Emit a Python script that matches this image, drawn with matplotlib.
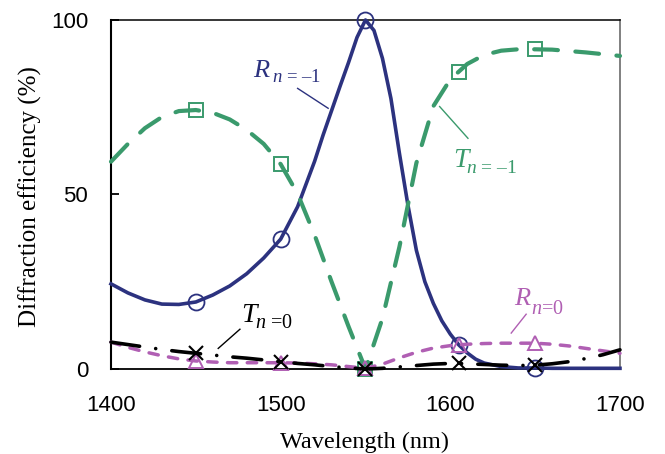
import numpy as np
import matplotlib.pyplot as plt

# wavelength grid (nm) shared by T(-1), T(0), R(0)
wl = [1400, 1410, 1420, 1430, 1440, 1450, 1460, 1470, 1480, 1490, 1500,
      1510, 1520, 1530, 1540, 1550, 1560, 1570, 1580, 1590, 1600, 1605,
      1610, 1620, 1630, 1640, 1650, 1660, 1670, 1680, 1690, 1700]
t_m1 = [59.4, 64.5, 69.0, 72.2, 73.9, 74.2, 73.4, 71.5, 68.5, 64.5, 58.7,
        50.2, 38.4, 25.0, 12.2, 0.0, 14.5, 35.0, 59.0, 75.3, 83.0, 85.2,
        87.4, 90.0, 91.2, 91.6, 91.6, 91.5, 91.1, 90.7, 90.2, 89.7]
t_0 = [7.7, 7.0, 6.3, 5.6, 5.0, 4.5, 4.0, 3.5, 3.1, 2.6, 2.1,
       1.6, 1.2, 0.7, 0.3, 0.0, 0.2, 0.6, 1.0, 1.4, 1.6, 1.6,
       1.5, 1.3, 1.1, 1.0, 1.1, 1.5, 2.1, 3.0, 4.1, 5.5]
r_0 = [7.7, 6.2, 4.9, 3.8, 2.9, 2.3, 2.0, 1.8, 1.8, 1.8, 1.8,
       1.7, 1.5, 1.2, 0.7, 0.2, 1.4, 3.2, 4.8, 6.0, 6.7, 6.9,
       7.1, 7.3, 7.4, 7.4, 7.4, 7.1, 6.6, 5.9, 5.2, 4.5]

# R(-1) needs a finer grid around the resonance
wl_r1 = [1400, 1410, 1420, 1430, 1440, 1450, 1460, 1470, 1480, 1490, 1500,
         1510, 1520, 1525, 1530, 1535, 1540, 1545, 1550, 1555, 1560, 1565,
         1570, 1575, 1580, 1585, 1590, 1595, 1600, 1605, 1610, 1615, 1620,
         1630, 1640, 1650, 1660, 1670, 1680, 1690, 1700]
r_m1 = [24.4, 21.8, 19.8, 18.6, 18.5, 19.2, 21.2, 23.8, 27.3, 31.8, 37.2,
        46.5, 59.5, 67.0, 74.0, 81.0, 87.8, 95.0, 100.0, 97.0, 89.0, 77.5,
        61.8, 47.0, 34.0, 25.0, 18.8, 13.8, 10.0, 6.9, 4.6, 2.8, 1.7,
        0.7, 0.3, 0.3, 0.2, 0.2, 0.2, 0.2, 0.2]

# wavelengths where the symbols sit
mk_wl = [1450, 1500, 1550, 1605, 1650]

navy = '#2c327f'
green = '#3a9a6c'
purple = '#b05fb3'

plt.rcParams['font.family'] = 'Liberation Serif'
plt.rcParams['mathtext.fontset'] = 'custom'
plt.rcParams['mathtext.rm'] = 'Liberation Serif'
plt.rcParams['mathtext.it'] = 'Liberation Serif:italic'


def pick(xs, ys):
    return [ys[xs.index(w)] for w in mk_wl]


fig = plt.figure(figsize=(6.65, 4.54), dpi=100)
ax = fig.add_axes([0.1669, 0.1872, 0.7654, 0.7688])

ax.plot(wl_r1, r_m1, color=navy, lw=2.6, clip_on=False, zorder=3,
        solid_joinstyle='round')
ax.plot(mk_wl, pick(wl_r1, r_m1), 'o', mfc='none', mec=navy, ms=11.5, mew=1.3,
        clip_on=False, zorder=3)

ax.plot(wl, t_m1, color=green, lw=3.0, dashes=(5.7, 4.2), dash_capstyle='round',
        clip_on=False, zorder=4)
ax.plot(mk_wl, pick(wl, t_m1), 's', mfc='none', mec=green, ms=10.5, mew=1.4,
        clip_on=False, zorder=4)

ax.plot(wl, r_0, color=purple, lw=2.5, dashes=(2.7, 3.0), dash_capstyle='round',
        clip_on=False, zorder=5)
ax.plot(mk_wl, pick(wl, r_0), '^', mfc='none', mec=purple, ms=10, mew=1.4,
        clip_on=False, zorder=5)

ax.plot(wl, t_0, color='black', lw=2.6, dashes=(8, 4.5, 0.01, 4.5), dash_capstyle='round',
        clip_on=False, zorder=6)
ax.plot(mk_wl, pick(wl, t_0), 'x', color='black', ms=10, mew=1.5,
        clip_on=False, zorder=6)

ax.set_xlim(1400, 1700)
ax.set_ylim(0, 100)
ax.set_xticks([1400, 1500, 1600, 1700])
ax.set_yticks([0, 50, 100])
ax.tick_params(axis='y', direction='in', length=6, width=1.3, pad=16.5, labelsize=16)
ax.tick_params(axis='x', length=0, pad=19, labelsize=16)
for lab in ax.get_xticklabels() + ax.get_yticklabels():
    lab.set_family('Liberation Sans')

for s in ['left', 'bottom', 'top']:
    ax.spines[s].set_color('black')
ax.spines['left'].set_linewidth(1.5)
ax.spines['bottom'].set_linewidth(1.3)
ax.spines['top'].set_linewidth(1.1)
ax.spines['right'].set_color('#808080')
ax.spines['right'].set_linewidth(1.4)

ax.text(0.499, -0.21, 'Wavelength (nm)', transform=ax.transAxes,
        ha='center', va='center', fontsize=17.5)
ax.text(-0.158, 0.493, 'Diffraction efficiency (%)', transform=ax.transAxes,
        ha='center', va='center', rotation=90, fontsize=18)

# curve labels with leader lines
ax.text(1483.7, 83.7, 'R', color=navy, fontsize=19, style='italic', va='baseline')
ax.text(1494.9, 82.2, '$n$ = \u20131', color=navy, fontsize=13.5, va='baseline')
ax.plot([1510, 1528], [80.4, 74.7], color=navy, lw=1.0)

ax.text(1601.5, 57.9, 'T', color=green, fontsize=20, style='italic', va='baseline')
ax.text(1609.2, 56.2, '$n$ = \u20131', color=green, fontsize=14, va='baseline')
ax.plot([1593.7, 1610.4], [75.2, 66.1], color=green, lw=1.0)

ax.text(1477.0, 13.6, 'T', color='black', fontsize=20, style='italic', va='baseline')
ax.text(1484.9, 11.7, '$n$ =0', color='black', fontsize=14.5, va='baseline')
ax.plot([1476, 1463.2], [11.4, 5.9], color='black', lw=1.0)

ax.text(1637.9, 18.3, 'R', color=purple, fontsize=19, style='italic', va='baseline')
ax.text(1647.5, 15.8, '$n$=0', color=purple, fontsize=14.5, va='baseline')
ax.plot([1644.7, 1635.9], [15.7, 10.3], color=purple, lw=1.0)

fig.savefig('out.png', dpi=100)
